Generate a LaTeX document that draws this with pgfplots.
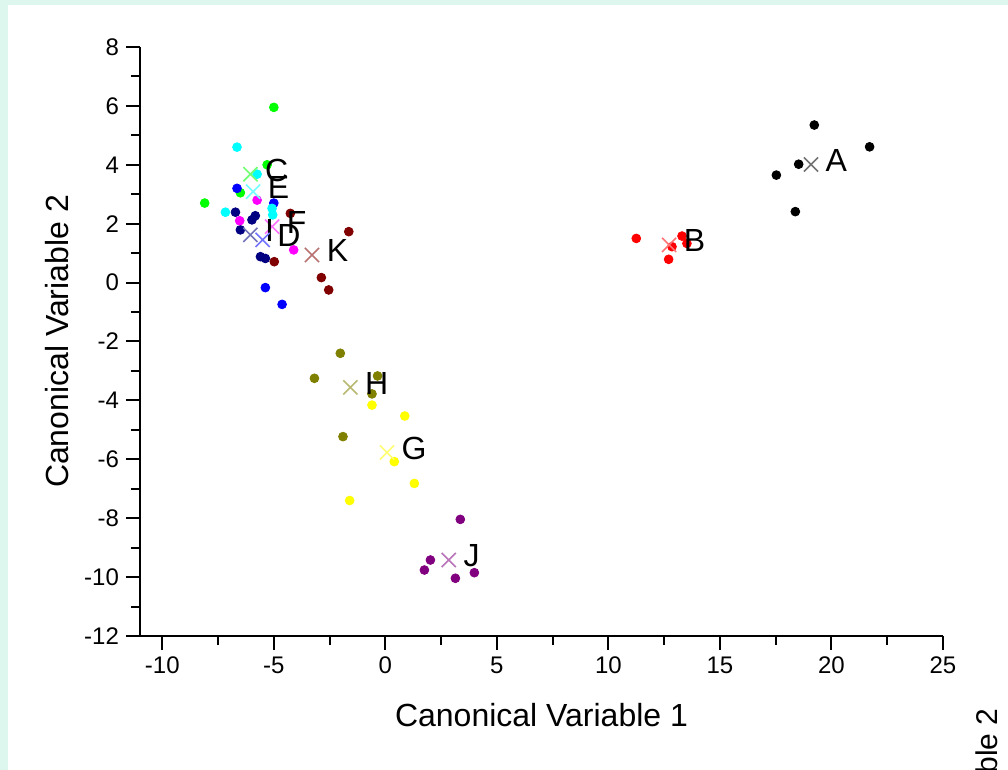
\documentclass[border=0pt]{standalone}
\usepackage{pgfplots}
\pgfplotsset{compat=1.18}
\usepackage{fontspec}
\setmainfont{Liberation Sans}
\usepackage{xcolor}
\definecolor{bgMint}{HTML}{DDF7EE}
\definecolor{cA}{HTML}{000000}
\definecolor{cB}{HTML}{FF0000}
\definecolor{cC}{HTML}{00FF00}
\definecolor{cD}{HTML}{0000FF}
\definecolor{cE}{HTML}{00FFFF}
\definecolor{cF}{HTML}{FF00FF}
\definecolor{cG}{HTML}{FFFF00}
\definecolor{cH}{HTML}{808000}
\definecolor{cI}{HTML}{000080}
\definecolor{cJ}{HTML}{800080}
\definecolor{cK}{HTML}{800000}
\pgfplotsset{
  grp/.style={only marks, mark=*, mark size=2.2pt, draw=#1, fill=#1},
  cen/.style={only marks, mark=x, mark size=5pt, color=#1!55!white, mark options={line width=0.8pt},
    nodes near coords, point meta=explicit symbolic,
    every node near coord/.style={anchor=west, xshift=7pt, yshift=2pt, inner sep=0pt,
      text=black, font=\fontsize{16}{18}\selectfont}},
}
\begin{document}
\begin{tikzpicture}
  % page background: mint frame with white panel
  \fill[bgMint] (-70pt,-67pt) rectangle (434pt,318pt);
  \fill[white] (-66pt,-67pt) rectangle (434pt,315.5pt);
  \begin{axis}[
      at={(0,0)}, anchor=south west, scale only axis,
      width=401.5pt, height=294.5pt,
      xmin=-11, xmax=25, ymin=-12, ymax=8,
      xtick={-10,-5,...,25}, ytick={-12,-10,...,8},
      minor xtick={-7.5,-2.5,...,22.5}, minor ytick={-11,-9,...,7},
      axis lines*=left, axis line style={line width=1.4pt},
      tick align=outside, tick style={black, line width=1pt},
      major tick length=7pt, minor tick length=4.5pt,
      ticklabel style={font=\fontsize{12}{14}\selectfont},
      /pgf/number format/assume math mode=true,
      xlabel={Canonical Variable 1}, ylabel={Canonical Variable 2},
      label style={font=\fontsize{16}{19}\selectfont},
      xlabel style={yshift=-8pt}, ylabel style={yshift=1pt},
      clip=false,
    ]
    % group members
    \addplot[grp=cA] coordinates {(19.23,5.35) (21.71,4.61) (18.53,4.02) (17.53,3.65) (18.38,2.41)};
    \addplot[grp=cB] coordinates {(11.25,1.50) (13.30,1.58) (12.85,1.22) (12.70,0.79) (13.52,1.33)};
    \addplot[grp=cK] coordinates {(-4.26,2.35) (-1.64,1.73) (-4.98,0.71) (-2.87,0.17) (-2.54,-0.25)};
    \addplot[grp=cH] coordinates {(-2.02,-2.40) (-3.18,-3.25) (-0.35,-3.17) (-0.60,-3.78) (-1.90,-5.23)};
    \addplot[grp=cG] coordinates {(-0.60,-4.16) (0.87,-4.53) (0.40,-6.08) (1.30,-6.82) (-1.60,-7.40)};
    \addplot[grp=cJ] coordinates {(3.36,-8.04) (2.02,-9.42) (1.75,-9.76) (3.14,-10.04) (3.99,-9.85)};
    \addplot[grp=cC] coordinates {(-5.00,5.95) (-8.10,2.70) (-5.30,4.00) (-6.50,3.05)};
    \addplot[grp=cD] coordinates {(-6.65,3.20) (-5.00,2.70) (-5.38,-0.17) (-4.63,-0.74)};
    \addplot[grp=cI] coordinates {(-6.72,2.39) (-5.98,2.13) (-5.83,2.27) (-6.50,1.79) (-5.60,0.88) (-5.38,0.82)};
    \addplot[grp=cE] coordinates {(-6.65,4.60) (-5.75,3.68) (-7.17,2.39) (-5.08,2.52) (-5.05,2.30)};
    \addplot[grp=cF] coordinates {(-5.75,2.80) (-6.53,2.10) (-4.11,1.11)};
    % group centroids
    \addplot[cen=cA] coordinates {(19.08,4.01) [A]};
    \addplot[cen=cB] coordinates {(12.72,1.28) [B]};
    \addplot[cen=cC] coordinates {(-6.05,3.68) [C]};
    \addplot[cen=cE] coordinates {(-5.93,3.09) [E]};
    \addplot[cen=cF] coordinates {(-5.08,1.90) [F]};
    \addplot[cen=cI] coordinates {(-6.05,1.62) [I]};
    \addplot[cen=cD] coordinates {(-5.50,1.45) [D]};
    \addplot[cen=cK] coordinates {(-3.29,0.94) [K]};
    \addplot[cen=cH] coordinates {(-1.57,-3.56) [H]};
    \addplot[cen=cG] coordinates {(0.07,-5.77) [G]};
    \addplot[cen=cJ] coordinates {(2.84,-9.42) [J]};
  \end{axis}
  % cut-off label from a neighbouring chart
  \begin{scope}
    \clip (-70pt,-67pt) rectangle (434pt,318pt);
    \node[rotate=90, anchor=north east, font=\fontsize{15}{18}\selectfont, inner sep=0pt]
      at (417.5pt,-36pt) {Canonical Variable 2};
  \end{scope}
\end{tikzpicture}
\end{document}
